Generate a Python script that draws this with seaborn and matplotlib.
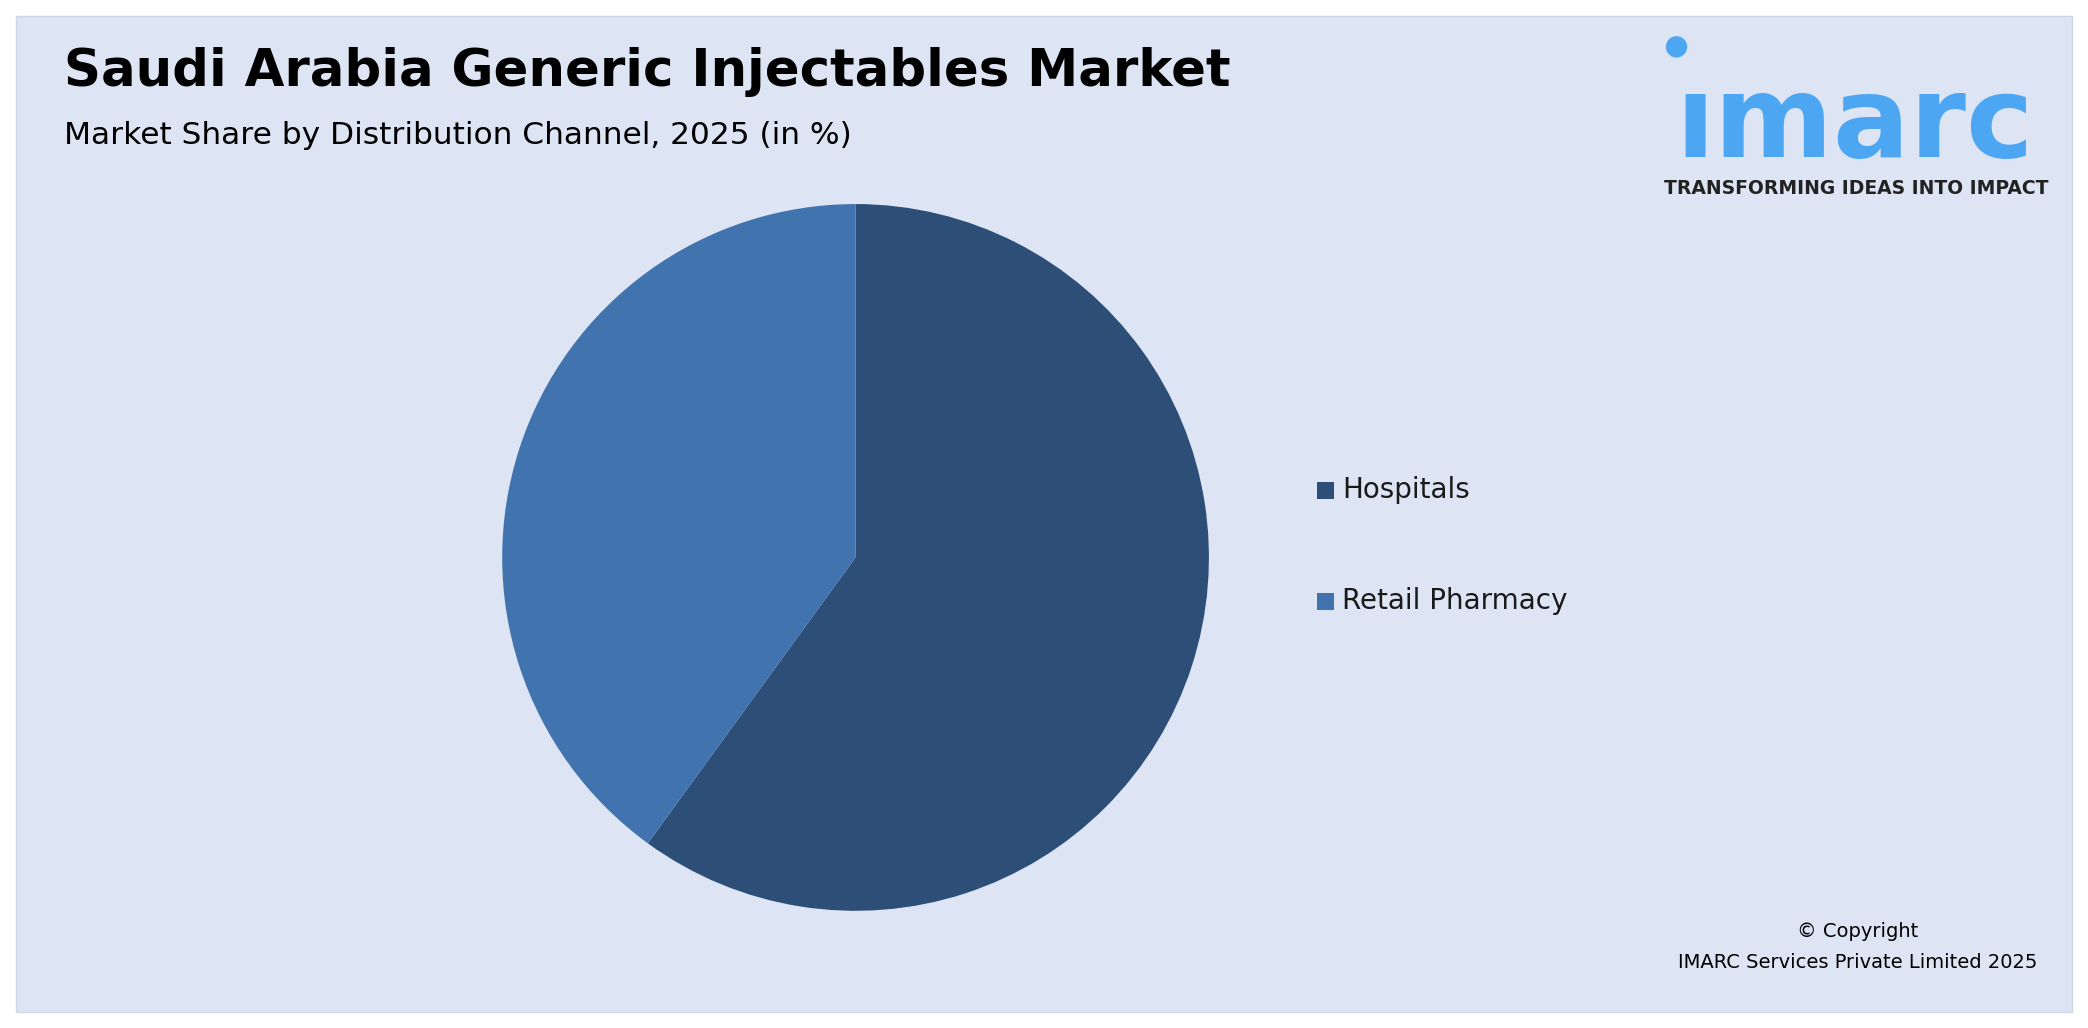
import matplotlib
matplotlib.use("Agg")
import matplotlib.pyplot as plt
import seaborn as sns
from matplotlib.patches import Rectangle, Ellipse

categories = ["Hospitals", "Retail Pharmacy"]
shares = [60, 40]
colors = ["#2d4e76", "#4173af"]

sns.set_theme(style="white")
plt.rcParams['font.family'] = ['DejaVu Sans']

W, H = 2088, 1028
fig = plt.figure(figsize=(W/100, H/100), dpi=100)
fig.patch.set_facecolor("white")
bg = "#dde4f3"
fig.patches.append(Rectangle((12/1568, 12/768), 1-24/1568, 1-24/768, transform=fig.transFigure,
                             facecolor=bg, edgecolor="#cfd6e6", lw=1, zorder=0))

ax = fig.add_axes([0.2405, 0.114, 0.3385, 0.6875])
ax.set_zorder(3)
ax.patch.set_alpha(0)
ax.pie(shares, colors=colors, startangle=90, counterclock=False,
       wedgeprops=dict(linewidth=0))
ax.set_xlim(-1, 1)
ax.set_ylim(-1, 1)
ax.set_aspect("equal")
ax.axis("off")

def fx(x): return x/1568
def fy(y): return 1 - y/768

fig.text(fx(48), fy(54), "Saudi Arabia Generic Injectables Market", fontsize=37,
         fontweight="bold", color="black", va="center", ha="left")
fig.text(fx(48), fy(101), "Market Share by Distribution Channel, 2025 (in %)", fontsize=22.5,
         color="black", va="center", ha="left")

# logo
fig.text(fx(1393), fy(94), "ımarc", fontsize=82, fontweight="bold", color="#4da6f2",
         va="center", ha="center")
fig.patches.append(Ellipse((fx(1259), fy(35)), 16/1568, 16/768, transform=fig.transFigure,
                           facecolor="#4da6f2", edgecolor="none"))
fig.text(fx(1394), fy(141), "TRANSFORMING IDEAS INTO IMPACT", fontsize=13.5, fontweight="bold",
         color="#222222", va="center", ha="center")

# legend
for i in range(len(categories)):
    y = [366, 449][i]
    fig.patches.append(Rectangle((fx(989), fy(y + 7)), 13/1568, 13/768, transform=fig.transFigure,
                                 facecolor=colors[i], edgecolor="none"))
    fig.text(fx(1008), fy(y), categories[i], fontsize=20, color="#1a1a1a", va="center", ha="left")

fig.text(fx(1395), fy(696), "© Copyright", fontsize=14, color="black", va="center", ha="center")
fig.text(fx(1530), fy(719), "IMARC Services Private Limited 2025", fontsize=14, color="black",
         va="center", ha="right")

fig.savefig("out.png", dpi=100, facecolor=fig.get_facecolor())
